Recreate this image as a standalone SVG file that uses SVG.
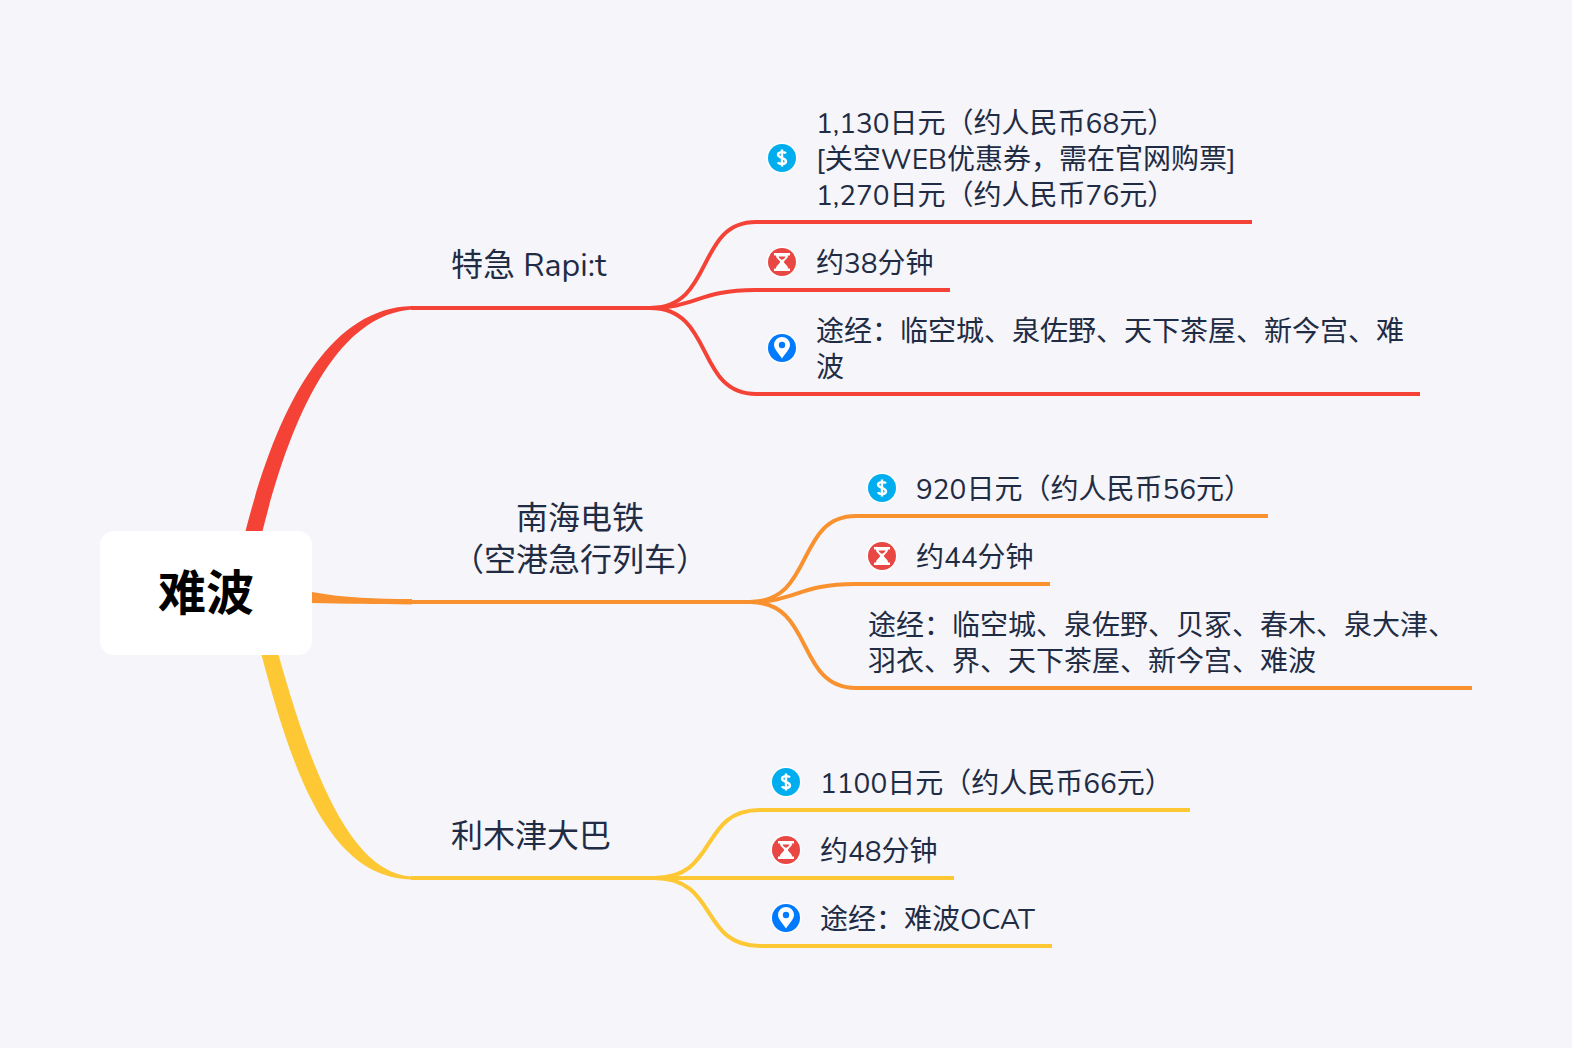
<svg xmlns="http://www.w3.org/2000/svg" width="1572" height="1048" viewBox="0 0 1572 1048">
<style>
text{font-family:"Nunito","Lato","Noto Sans CJK SC",sans-serif;fill:#1f2c44}
.t{font-size:28px}
.b{font-size:32px}
.c{fill:none;stroke-width:4}
.r{stroke:#f44336}.o{stroke:#f9912f}.y{stroke:#fec834}
</style>
<defs>
<g id="money"><circle r="15.5" fill="#fff"/><circle r="14" fill="#00aeef"/><path d="M3.800-4.500C3-6.500-4-6.500-4-3.200S4-.5 4 3.200-3 6.500-4 4.300M0-8.500V8.500" fill="none" stroke="#fff" stroke-width="2.400"/></g>
<g id="time"><circle r="15.500" fill="#fff"/><circle r="14" fill="#e94744"/><path d="M-8-9H8V-6.500H6C6-3 2-2 2 0S6 3 6 6.500H8V9H-8V6.500H-6C-6 3-2 2-2 0S-6-3-6-6.500H-8Z" fill="#fff"/><path d="M-3.500-5.500H3.500C3-3.500 1-3 0-2-1-3-3-3.500-3.500-5.500Z" fill="#e94744"/></g>
<g id="place"><circle r="15.500" fill="#fff"/><circle r="14" fill="#007aff"/><path d="M0 10.500C-3 6-8 1-8-3A8 8 0 1 1 8-3C8 1 3 6 0 10.500Z" fill="#fff"/><circle cy="-3" r="3.200" fill="#007aff"/></g>
</defs>
<rect width="1572" height="1048" fill="#f5f5fa"/>
<g id="connectors">
<path d="M245 533C275 415 325 308 412 306V309.500C335 315 290 420 262 533Z" fill="#f44336"/>
<path d="M312 592C345 598 375 599 412 599V604.500C375 604 345 604 312 603Z" fill="#f9912f"/>
<path d="M261 653C292 770 328 878 412 879.500V876.500C352 874 312 775 278 653Z" fill="#fec834"/>
<g class="c r"><path d="M411 308H650C715 308 695 222 756 222H1252"/><path d="M650 308C695 308 700 290 755 290H950"/><path d="M650 308C715 308 695 394 756 394H1420"/></g>
<g class="c o"><path d="M411 602H750C815 602 795 516 856 516H1268"/><path d="M750 602C795 602 800 584 855 584H1050"/><path d="M750 602C815 602 795 688 856 688H1472"/></g>
<g class="c y"><path d="M411 878H654C719 878 699 810 760 810H1190"/><path d="M654 878H954"/><path d="M654 878C719 878 699 946 760 946H1052"/></g>
</g>
<g id="root"><rect x="100" y="531" width="212" height="124" rx="14" fill="#fff"/><text x="206" y="610" text-anchor="middle" style="font-size:48px;font-weight:700;fill:#000">难波</text></g>
<g id="n1"><text class="b" x="451" y="276">特急 Rapi:t</text></g>
<g id="n2"><text class="b" x="580" y="529" text-anchor="middle">南海电铁</text><text class="b" x="580" y="571" text-anchor="middle">（空港急行列车）</text></g>
<g id="n3"><text class="b" x="451" y="847">利木津大巴</text></g>
<g id="n1a"><use href="#money" x="782" y="158"/><text class="t" x="816" y="133">1,130日元（约人民币68元）</text><text class="t" x="816" y="169">[关空WEB优惠券，需在官网购票]</text><text class="t" x="816" y="205">1,270日元（约人民币76元）</text></g>
<g id="n1b"><use href="#time" x="782" y="262"/><text class="t" x="816" y="273">约38分钟</text></g>
<g id="n1c"><use href="#place" x="782" y="348"/><text class="t" x="816" y="341">途经：临空城、泉佐野、天下茶屋、新今宫、难</text><text class="t" x="816" y="377">波</text></g>
<g id="n2a"><use href="#money" x="882" y="488"/><text class="t" x="916" y="499">920日元（约人民币56元）</text></g>
<g id="n2b"><use href="#time" x="882" y="556"/><text class="t" x="916" y="567">约44分钟</text></g>
<g id="n2c"><text class="t" x="868" y="635">途经：临空城、泉佐野、贝冢、春木、泉大津、</text><text class="t" x="868" y="671">羽衣、界、天下茶屋、新今宫、难波</text></g>
<g id="n3a"><use href="#money" x="786" y="782"/><text class="t" x="820" y="793">1100日元（约人民币66元）</text></g>
<g id="n3b"><use href="#time" x="786" y="850"/><text class="t" x="820" y="861">约48分钟</text></g>
<g id="n3c"><use href="#place" x="786" y="918"/><text class="t" x="820" y="929">途经：难波OCAT</text></g>
</svg>
